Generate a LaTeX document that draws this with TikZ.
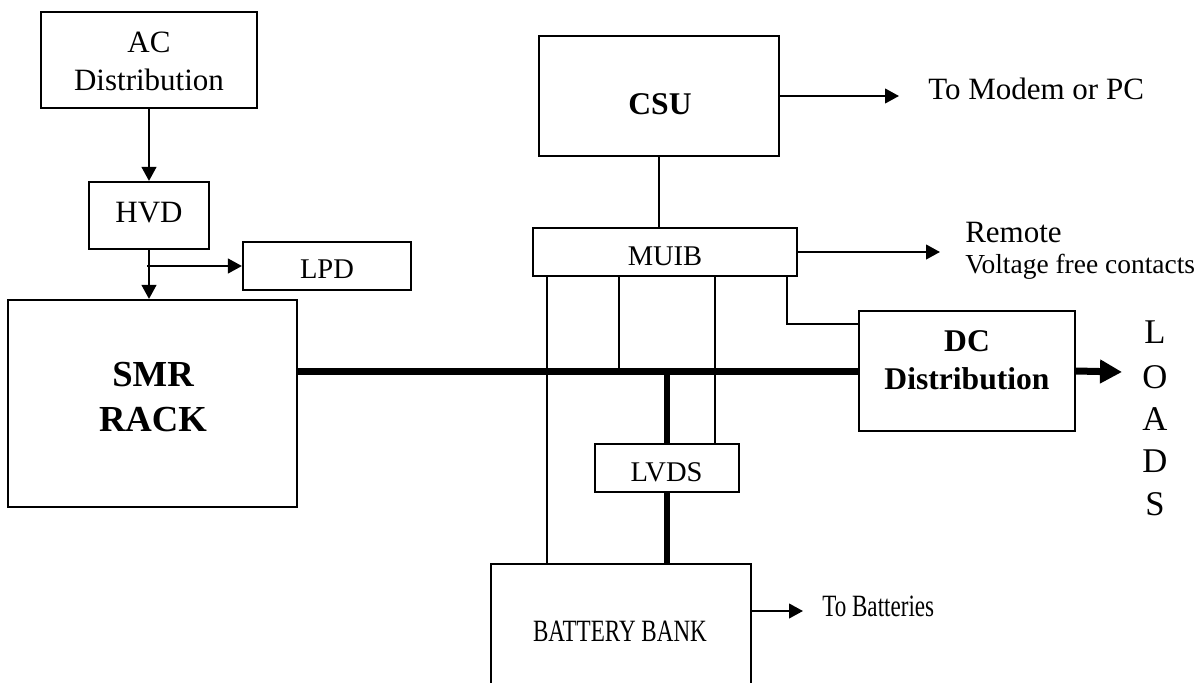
\documentclass[tikz,border=0pt]{standalone}
\usepackage{fontspec}
\setmainfont{Liberation Serif}
\usepackage{graphicx}
\usetikzlibrary{arrows.meta,fit}
\begin{document}
\begin{tikzpicture}[x=0.75pt,y=-0.75pt,
  box/.style={draw,line width=1.6pt,inner sep=0pt},
  txt/.style={inner sep=0pt,align=center},
  conn/.style={line width=1.6pt},
  arr/.style={line width=1.6pt,-{Triangle[length=10.5pt,width=11pt]}},
  busline/.style={line width=5.25pt},
  vbusline/.style={line width=4.5pt},
  busarr/.style={line width=5.25pt,-{Triangle[length=16.5pt,width=17pt]}},
  regfont/.style={font=\fontsize{23.25pt}{28.5pt}\selectfont},
  smallfont/.style={font=\fontsize{21.4pt}{26pt}\selectfont},
  tinyfont/.style={font=\fontsize{20.6pt}{25pt}\selectfont},
  boldfont/.style={font=\fontsize{23.7pt}{28.5pt}\selectfont\bfseries},
  bigfont/.style={font=\fontsize{27.5pt}{33.75pt}\selectfont\bfseries},
  loadsfont/.style={font=\fontsize{26pt}{32pt}\selectfont}]
\useasboundingbox (0,0) rectangle (1199,682);
\clip (0,0) rectangle (1199,682);

% boxes
\node[box, fit={(41,12) (257,108)}] (ac) {};
\node[box, fit={(89,182) (209,249)}] (hvd) {};
\node[box, fit={(243,242) (411,290)}] (lpd) {};
\node[box, fit={(8,300) (297,507)}] (smr) {};
\node[box, fit={(539,36) (779,156)}] (csu) {};
\node[box, fit={(533,228) (797,276)}] (muib) {};
\node[box, fit={(859,311) (1075,431)}] (dc) {};
\node[box, fit={(595,444) (739,492)}] (lvds) {};
\node[box, fit={(491,564) (751,730)}] (batt) {};

% box texts
\node[txt, regfont] (actxt) at (149,61) {AC\\Distribution};
\node[txt, regfont] (hvdtxt) at (149,213) {HVD};
\node[txt, smallfont] (lpdtxt) at (327,269) {LPD};
\node[txt, bigfont, font=\fontsize{27.5pt}{33.75pt}\selectfont\bfseries] (smrtxt) at (153,397.5) {SMR\\RACK};
\node[txt, boldfont] (csutxt) at (660,104) {CSU};
\node[txt, smallfont] (muibtxt) at (665,256.5) {MUIB};
\node[txt, boldfont] (dctxt) at (967,360) {DC\\Distribution};
\node[txt, smallfont] (lvdstxt) at (666.5,472) {LVDS};
\node[txt, regfont] (batttxt) at (620,631.5) {\scalebox{0.745}[1]{BATTERY BANK}};

% outside labels
\node[txt, regfont, anchor=base west] (modem) at (928,99) {To Modem or PC};
\node[txt, regfont, anchor=base west] (remote) at (965,242) {Remote};
\node[txt, tinyfont, anchor=base west] (vfc) at (965,273) {Voltage free contacts};
\node[txt, regfont, anchor=base west] (tobat) at (822,616) {\scalebox{0.745}[1]{To Batteries}};
\foreach \l/\yy [count=\i] in {L/343,O/388,A/430,D/472,S/515}
  \node[txt, loadsfont, anchor=base] (load\i) at (1155,\yy) {\l};

% coordinates
\coordinate (tee) at (147,266);
\coordinate (modemtip) at (899,96);
\coordinate (remtip) at (940,252);
\coordinate (batttip) at (803,611);
\coordinate (loadtip) at (1122,372);
\coordinate (m1) at (547,0);
\coordinate (m2) at (619,0);
\coordinate (m3) at (715,0);
\coordinate (m4) at (787,324);

% connectors
\draw[arr] (ac.south) -- (hvd.north);
\draw[arr] (hvd.south) -- (hvd.south |- smr.north);
\draw[arr] (tee) -- (tee -| lpd.west);
\draw[arr] (csu.east) -- (modemtip);
\draw[conn] (csu.south) -- (csu.south |- muib.north);
\draw[arr] (muib.east) -- (remtip);
\draw[conn] (m1 |- muib.south) -- (m1 |- batt.north);
\draw[conn] (m2 |- muib.south) -- (m2 |- dc.west);
\draw[conn] (m3 |- muib.south) -- (m3 |- lvds.north);
\draw[conn] (m4 |- muib.south) -- (m4) -- (m4 -| dc.west);
\draw[busline] (smr.east |- dc.west) -- (dc.west);
\draw[busarr] (dc.east) -- (loadtip);
\draw[vbusline] (lvds.north |- dc.west) -- (lvds.north);
\draw[vbusline] (lvds.south) -- (lvds.south |- batt.north);
\draw[arr] (batttip -| batt.east) -- (batttip);
\end{tikzpicture}
\end{document}
